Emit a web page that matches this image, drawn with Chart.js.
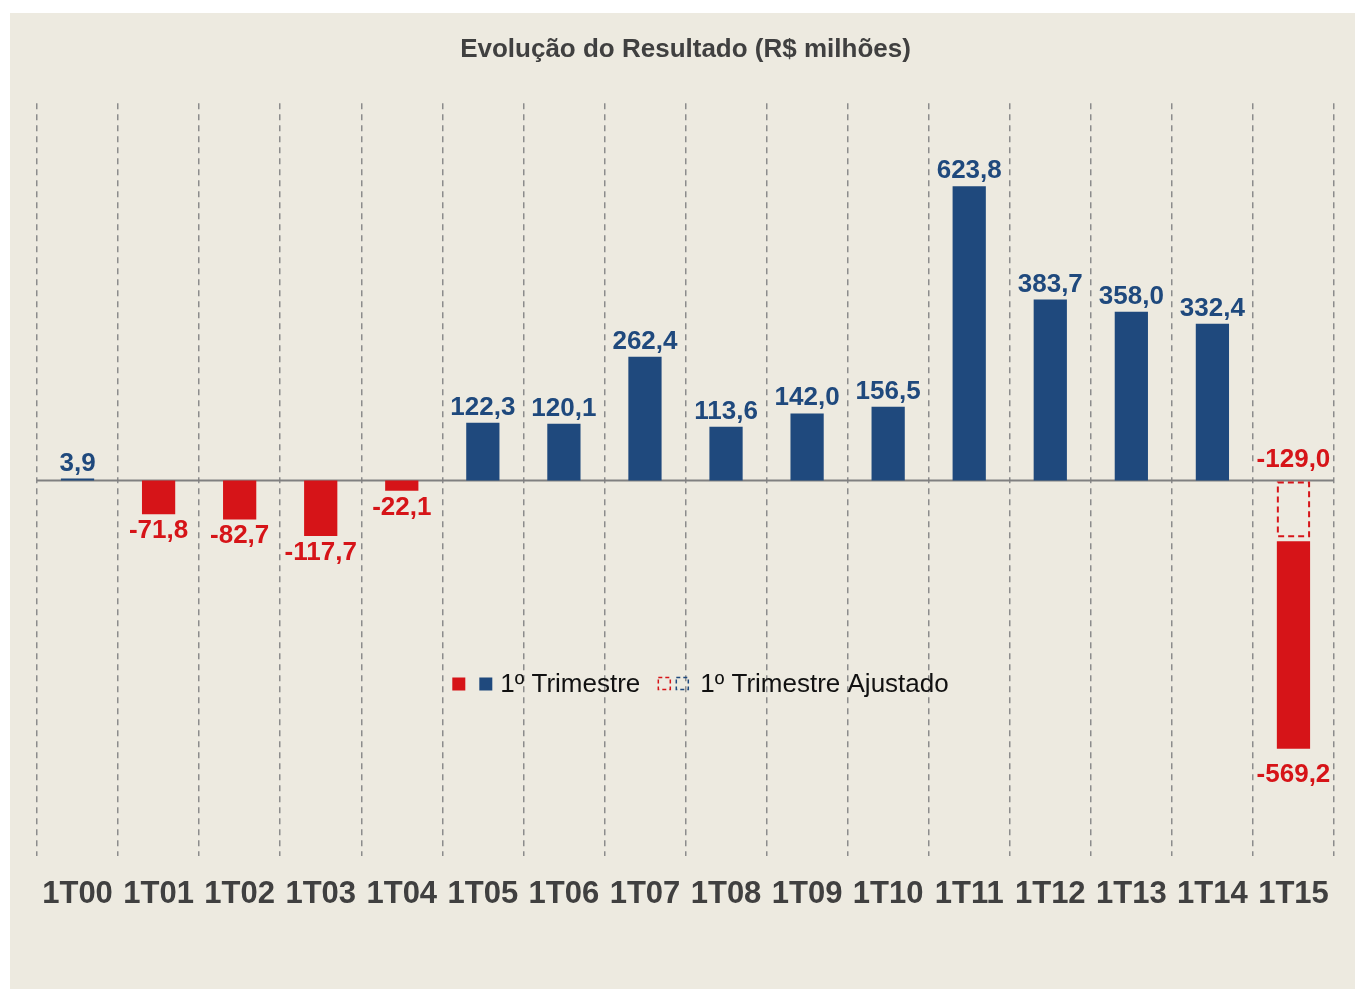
<!DOCTYPE html>
<html lang="pt-BR">
<head>
<meta charset="utf-8">
<title>Evolução do Resultado</title>
<script src="https://cdn.jsdelivr.net/npm/chart.js@4.4.1/dist/chart.umd.min.js"></script>
<style>
  html, body { margin: 0; padding: 0; background: #ffffff; }
  #wrap {
    position: absolute;
    left: 10px; top: 13px;
    width: 1345px; height: 976px;
    background: #EDEAE0;
  }
</style>
</head>
<body>
<div id="wrap"><canvas id="resultChart"></canvas></div>
<script>
// Evolução do Resultado (R$ milhões) — 1º trimestre de cada ano
const quarters = ['1T00', '1T01', '1T02', '1T03', '1T04', '1T05', '1T06', '1T07',
                  '1T08', '1T09', '1T10', '1T11', '1T12', '1T13', '1T14', '1T15'];

// 1T15 is a floating bar: from the adjusted result down to the reported one
const firstQuarter = [3.9, -71.8, -82.7, -117.7, -22.1, 122.3, 120.1, 262.4,
                      113.6, 142.0, 156.5, 623.8, 383.7, 358.0, 332.4, [-129.0, -569.2]];

const adjustedQuarter = [null, null, null, null, null, null, null, null,
                         null, null, null, null, null, null, null, -129.0];

const yMin = -796;
const yMax = 800;

const BLUE = '#1F497D';
const RED = '#D61418';
const GREY_TEXT = '#404040';
const FONT = '"Liberation Sans", Arial, sans-serif';

const endOf = (v) => Array.isArray(v) ? v[1] : v;
const fmtBR = (n) => n.toFixed(1).replace('.', ',');

// Solid zero line across the plot
const zeroLine = {
  id: 'zeroLine',
  beforeDatasetsDraw(chart) {
    const { ctx, chartArea } = chart;
    const y0 = chart.scales.y.getPixelForValue(0);
    ctx.save();
    ctx.strokeStyle = '#808080';
    ctx.lineWidth = 2;
    ctx.beginPath();
    ctx.moveTo(chartArea.left, y0);
    ctx.lineTo(chartArea.right, y0);
    ctx.stroke();
    ctx.restore();
  }
};

// Value labels above / below each bar
const valueLabels = {
  id: 'valueLabels',
  afterDatasetsDraw(chart) {
    const ctx = chart.ctx;
    ctx.save();
    ctx.font = `bold 26px ${FONT}`;
    ctx.textAlign = 'center';
    ctx.textBaseline = 'alphabetic';
    chart.data.datasets.forEach((ds, di) => {
      const meta = chart.getDatasetMeta(di);
      meta.data.forEach((el, i) => {
        const raw = ds.data[i];
        if (raw === null || raw === undefined) return;
        const v = endOf(raw);
        const top = Math.min(el.y, el.base);
        const bottom = Math.max(el.y, el.base);
        ctx.fillStyle = v >= 0 ? BLUE : RED;
        if (di === 1) {
          // adjusted value sits above the zero line
          ctx.fillText(fmtBR(v), el.x, top - 13);
        } else if (v >= 0) {
          ctx.fillText(fmtBR(v), el.x, top - 8);
        } else {
          const extra = Array.isArray(raw) ? 9 : 0;
          ctx.fillText(fmtBR(v), el.x, bottom + 24 + extra);
        }
      });
    });
    ctx.restore();
  }
};

// Dashed outline for the adjusted bar
const dashedBars = {
  id: 'dashedBars',
  afterDatasetsDraw(chart) {
    const meta = chart.getDatasetMeta(1);
    const ctx = chart.ctx;
    ctx.save();
    ctx.strokeStyle = RED;
    ctx.lineWidth = 2;
    ctx.setLineDash([6, 4]);
    meta.data.forEach((el, i) => {
      if (adjustedQuarter[i] === null) return;
      const top = Math.min(el.y, el.base) + 2;
      const bottom = Math.max(el.y, el.base) - 5;
      ctx.strokeRect(el.x - el.width / 2 + 1, top, el.width - 2, bottom - top);
    });
    ctx.restore();
  }
};

// Legend drawn inside the plot, like the original
const innerLegend = {
  id: 'innerLegend',
  afterDraw(chart) {
    const ctx = chart.ctx;
    const area = chart.chartArea;
    const box = 13;
    ctx.save();
    ctx.font = `26px ${FONT}`;
    ctx.textBaseline = 'middle';
    const t1 = chart.data.datasets[0].label;
    const t2 = chart.data.datasets[1].label;
    const w1 = ctx.measureText(t1).width;
    const w2 = ctx.measureText(t2).width;
    const total = box + 14 + box + 8 + w1 + 18 + box + 5 + box + 11 + w2;
    let x = (area.left + area.right) / 2 + 15 - total / 2;
    const y = 671;

    ctx.fillStyle = RED;
    ctx.fillRect(x, y - box / 2, box, box);
    x += box + 14;
    ctx.fillStyle = BLUE;
    ctx.fillRect(x, y - box / 2, box, box);
    x += box + 8;
    ctx.fillStyle = '#111111';
    ctx.fillText(t1, x, y + 1);
    x += w1 + 18;

    ctx.lineWidth = 1.5;
    ctx.setLineDash([4, 3]);
    ctx.strokeStyle = RED;
    ctx.strokeRect(x, y - box / 2, box - 1, box - 1);
    x += box + 5;
    ctx.strokeStyle = BLUE;
    ctx.strokeRect(x, y - box / 2, box - 1, box - 1);
    x += box + 11;
    ctx.setLineDash([]);
    ctx.fillStyle = '#111111';
    ctx.fillText(t2, x, y + 1);
    ctx.restore();
  }
};

const barColors = firstQuarter.map(v => endOf(v) >= 0 ? BLUE : RED);

new Chart(document.getElementById('resultChart'), {
  type: 'bar',
  data: {
    labels: quarters,
    datasets: [
      {
        label: '1º Trimestre',
        data: firstQuarter,
        backgroundColor: barColors,
        borderWidth: 0,
        grouped: false,
        categoryPercentage: 1,
        barPercentage: 0.41,
        order: 2
      },
      {
        label: '1º Trimestre Ajustado',
        data: adjustedQuarter,
        backgroundColor: 'rgba(0,0,0,0)',
        borderWidth: 0,
        grouped: false,
        categoryPercentage: 1,
        barPercentage: 0.41,
        order: 1
      }
    ]
  },
  options: {
    responsive: true,
    maintainAspectRatio: false,
    animation: false,
    layout: { padding: { left: 27, right: 21, top: 0, bottom: 56 } },
    plugins: {
      legend: { display: false },
      tooltip: { enabled: false },
      title: {
        display: true,
        text: 'Evolução do Resultado (R$ milhões)',
        color: GREY_TEXT,
        font: { family: FONT, size: 26, weight: 'bold' },
        padding: { top: 21, bottom: 38 }
      }
    },
    scales: {
      x: {
        offset: true,
        grid: {
          display: true,
          offset: true,
          drawTicks: false,
          color: '#8C8C8C',
          lineWidth: 1.5
        },
        border: { display: false, dash: [6, 5] },
        ticks: {
          color: GREY_TEXT,
          padding: 20,
          font: { family: FONT, size: 31, weight: 'bold' }
        }
      },
      y: {
        display: false,
        min: yMin,
        max: yMax
      }
    }
  },
  plugins: [zeroLine, dashedBars, valueLabels, innerLegend]
});
</script>
</body>
</html>
